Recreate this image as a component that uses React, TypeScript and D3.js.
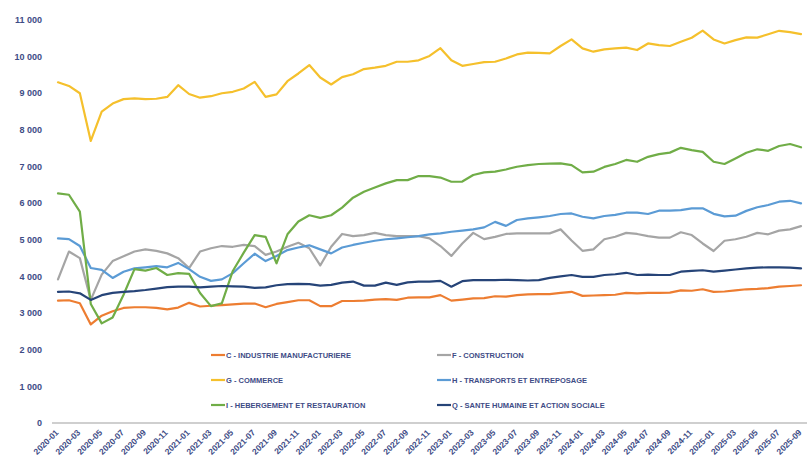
import React from "react";
import * as d3 from "d3";

const months: string[] = [];
for (let y = 2020; y <= 2025; y++) {
  for (let m = 1; m <= 12; m++) {
    if (y === 2025 && m > 9) break;
    months.push(`${y}-${String(m).padStart(2, "0")}`);
  }
}

const industrie = [3340,3350,3270,2690,2930,3050,3140,3160,3160,3140,3100,3150,3280,3180,3200,3220,3240,3260,3260,3160,3250,3300,3350,3350,3190,3190,3330,3330,3340,3370,3380,3360,3420,3430,3430,3490,3340,3370,3400,3410,3460,3450,3490,3510,3520,3520,3550,3580,3470,3480,3490,3500,3550,3540,3550,3550,3560,3620,3610,3650,3580,3590,3620,3650,3660,3680,3720,3740,3760];
const construction = [3920,4680,4500,3360,4050,4420,4550,4680,4740,4700,4630,4500,4230,4680,4770,4830,4810,4860,4830,4590,4680,4810,4920,4770,4300,4810,5160,5100,5130,5190,5130,5100,5100,5100,5040,4830,4560,4900,5190,5020,5080,5160,5175,5175,5175,5175,5285,4980,4700,4740,5015,5085,5190,5160,5100,5060,5060,5205,5130,4900,4695,4975,5015,5085,5190,5150,5250,5285,5375];
const commerce = [9300,9200,9000,7700,8500,8720,8840,8860,8840,8850,8900,9220,8980,8880,8920,9000,9040,9130,9310,8900,8970,9330,9540,9770,9430,9240,9440,9520,9660,9700,9750,9860,9860,9900,10020,10230,9900,9750,9800,9850,9860,9950,10060,10110,10100,10090,10290,10470,10225,10135,10200,10225,10245,10180,10360,10315,10290,10405,10515,10710,10470,10360,10450,10525,10520,10610,10705,10670,10615];
const transports = [5040,5020,4830,4230,4180,3960,4130,4220,4250,4280,4250,4370,4200,3990,3880,3920,4090,4360,4620,4420,4560,4720,4790,4850,4740,4630,4790,4860,4920,4975,5015,5040,5070,5100,5150,5175,5220,5250,5285,5340,5490,5380,5540,5585,5615,5650,5705,5720,5630,5585,5650,5680,5740,5740,5705,5795,5795,5810,5860,5860,5710,5640,5660,5790,5890,5950,6040,6065,5995];
const hebergement = [6270,6230,5770,3250,2720,2880,3500,4200,4160,4230,4040,4090,4070,3550,3190,3270,4150,4650,5130,5080,4360,5150,5500,5670,5600,5670,5880,6150,6310,6430,6540,6630,6630,6740,6740,6700,6585,6590,6770,6840,6860,6920,6995,7040,7070,7080,7085,7040,6840,6860,6990,7070,7180,7130,7265,7340,7380,7510,7450,7400,7130,7070,7220,7375,7470,7430,7560,7615,7525];
const sante = [3580,3590,3540,3360,3490,3550,3580,3600,3630,3670,3710,3720,3720,3700,3720,3740,3730,3720,3690,3700,3760,3790,3800,3790,3750,3770,3830,3860,3750,3750,3830,3770,3840,3860,3860,3880,3720,3870,3900,3900,3900,3910,3900,3890,3900,3960,4000,4040,3990,3990,4040,4060,4100,4040,4050,4040,4040,4130,4150,4170,4130,4160,4190,4220,4240,4250,4250,4240,4220];

const seriesNames = [
  "C - INDUSTRIE MANUFACTURIERE",
  "F - CONSTRUCTION",
  "G - COMMERCE",
  "H - TRANSPORTS ET ENTREPOSAGE",
  "I - HEBERGEMENT ET RESTAURATION",
  "Q - SANTE HUMAINE ET ACTION SOCIALE",
];
const seriesValues = [industrie, construction, commerce, transports, hebergement, sante];
const seriesColors = ["#ED7D31", "#A5A5A5", "#F5C02C", "#5B9BD5", "#70AD47", "#264478"];
const yTicks = [0, 1000, 2000, 3000, 4000, 5000, 6000, 7000, 8000, 9000, 10000, 11000];
const xTickLabels = months.filter((_, i) => i % 2 === 0);

const W = 807;
const H = 461;
const textColor = "#3E4C86";
const font = "'Liberation Sans', Arial, sans-serif";

export default function App() {
  const x = d3.scalePoint<string>().domain(months).range([58, 801]);
  const y = d3.scaleLinear().domain([0, 11000]).range([423, 20]);
  const line = d3
    .line<number>()
    .x((_, i) => x(months[i]) as number)
    .y((d) => y(d));
  const fmt = (v: number) => d3.format(",")(v).replace(/,/g, " ");

  const legendCols = [211, 437];
  const legendRows = [355, 380, 405];

  return (
    <svg
      width={W}
      height={H}
      style={{ position: "absolute", left: 0, top: 0, background: "#fff" }}
      fontFamily={font}
    >
      <rect x={0} y={0} width={W} height={H} fill="#fff" />
      {yTicks.map((t) => (
        <text
          key={t}
          x={42}
          y={y(t)}
          dy="0.35em"
          textAnchor="end"
          fontSize={9}
          fontWeight="bold"
          fill={textColor}
        >
          {fmt(t)}
        </text>
      ))}
      <line x1={52} x2={W} y1={y(0)} y2={y(0)} stroke="#BFBFBF" strokeWidth={1.5} />
      {xTickLabels.map((m) => {
        const px = x(m) as number;
        return (
          <text
            key={m}
            transform={`translate(${px - 1},${431}) rotate(-45)`}
            textAnchor="end"
            fontSize={8.5}
            fontWeight="bold"
            fill={textColor}
            dy="0.35em"
          >
            {m}
          </text>
        );
      })}
      {seriesValues.map((vals, si) => (
        <path
          key={si}
          d={line(vals) || ""}
          fill="none"
          stroke={seriesColors[si]}
          strokeWidth={2.2}
          strokeLinejoin="round"
          strokeLinecap="round"
        />
      ))}
      {seriesNames.map((name, si) => {
        const col = si % 2;
        const row = Math.floor(si / 2);
        const lx = legendCols[col];
        const ly = legendRows[row];
        return (
          <g key={name}>
            <line x1={lx} x2={lx + 14} y1={ly} y2={ly} stroke={seriesColors[si]} strokeWidth={2.2} />
            <text
              x={lx + 15}
              y={ly}
              dy="0.35em"
              fontSize={7.5}
              fontWeight="bold"
              fill={textColor}
            >
              {name}
            </text>
          </g>
        );
      })}
    </svg>
  );
}
